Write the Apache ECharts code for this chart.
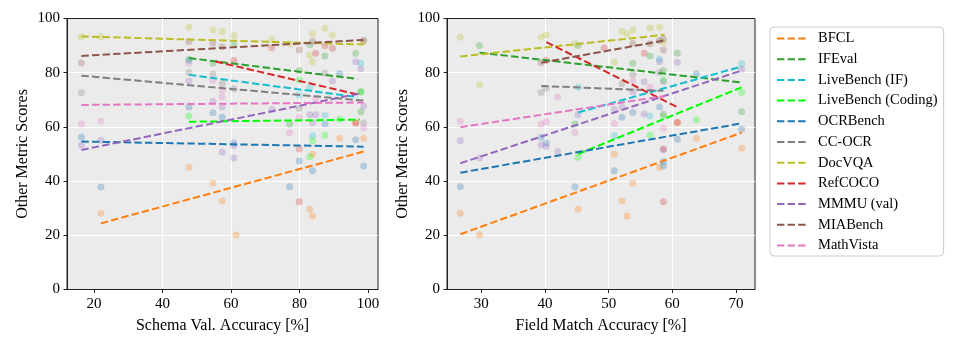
<!DOCTYPE html>
<html><head><meta charset="utf-8">
<script src="https://cdn.jsdelivr.net/npm/echarts@6/dist/echarts.min.js"></script>
<style>html,body{margin:0;padding:0;background:#fff}#c{width:957px;height:348px}</style>
</head><body><div id="c"></div><script>
const benchmarks = ['BFCL','IFEval','LiveBench (IF)','LiveBench (Coding)','OCRBench','CC-OCR','DocVQA','RefCOCO','MMMU (val)','MIABench','MathVista'];
const colors = ['#ff7f0e','#2ca02c','#17becf','#00ff00','#1f77b4','#7f7f7f','#bcbd22','#d62728','#9467bd','#8c564b','#e377c2'];

const schemaTicks = [20,40,60,80,100];
const fieldTicks = [30,40,50,60,70];
const yTicks = [0,20,40,60,80,100];
const schemaRange = [12.1, 102.9];
const fieldRange = [24.6, 73.0];

// Left panel points: [Schema Val. Accuracy, score]
const sBFCL = [[22,28.1],[47.7,45.1],[54.7,39.2],[57.4,32.7],[61.5,20.1],[83,29.6],[83.8,27.1],[83.8,49.9],[91.7,55.8],[96.4,61.6],[98.7,55.8]];
const sIFEval = [[47.7,85.0],[54.7,83.5],[60.8,90.3],[77.1,61.0],[79.9,80.8],[83.0,90.3],[87.4,86.2],[96.4,87.2],[97.9,73.0],[97.9,65.6]];
const sLiveIF = [[47.7,84.5],[79.9,71.8],[83.0,74.6],[83.8,56.7],[87.4,64.3],[97.9,83.5]];
const sLiveCode = [[47.7,64.0],[79.9,77.3],[83.0,49.0],[83.8,54.9],[87.4,56.9],[91.7,62.8],[97.9,72.9]];
const sOCRBench = [[16.3,56.3],[22,37.8],[47.7,67.3],[54.7,65.2],[57.4,63.6],[60.8,54.1],[77.1,37.9],[79.9,47.4],[83.8,43.8],[87.4,61.1],[91.7,79.6],[96.4,55.3],[98.7,45.6]];
const sCCOCR = [[16.3,72.6],[47.7,80.1],[54.7,79.5],[57.4,76.0],[60.8,74.1],[79.9,66.8],[87.4,79.8],[98.7,61.4]];
const sDocVQA = [[16.3,93.3],[22,93.3],[47.7,96.8],[54.7,95.8],[57.4,95.2],[60.8,93.7],[71.9,92.2],[77.2,90.6],[82.9,86.5],[83.8,94.3],[83.7,84.0],[87.4,96.3],[89.6,93.9],[98.7,91.4]];
const sRefCOCO = [[60.8,84.5],[71.9,89.2],[79.9,51.8],[79.9,32.4],[84.7,87.2],[87.4,89.9],[89.6,89.0],[96.4,61.4]];
const sMMMU = [[16.3,53.2],[22,55.1],[47.7,76.9],[54.7,69.5],[57.4,67.3],[57.4,50.7],[60.8,53.1],[60.8,48.5],[71.9,66.4],[83.0,64.5],[84.7,64.5],[83.8,61.5],[89.6,76.9],[96.4,84.0],[97.9,81.5],[98.7,67.6]];
const sMIABench = [[16.3,83.6],[47.7,91.5],[54.7,91.0],[57.4,89.6],[79.9,88.4],[83.8,91.5],[98.7,92.0]];
const sMathVista = [[16.3,61.1],[22,62.1],[47.7,83.6],[54.7,77.1],[57.4,73.4],[57.4,71.0],[77.1,57.8],[79.9,63.6],[84.7,70.4],[98.7,59.6]];

// Right panel points: [Field Match Accuracy, score]
const fBFCL = [[26.7,28.1],[29.7,20.1],[45.2,29.6],[50.9,49.9],[52.1,32.7],[52.9,27.1],[53.8,39.2],[58.0,45.1],[60.8,61.6],[63.8,55.8],[70.9,52.1]];
const fIFEval = [[29.7,90.0],[44.7,61.1],[45.2,90.0],[53.8,83.5],[56.5,86.2],[58.6,80.8],[60.8,87.2],[70.9,65.6]];
const fLiveIF = [[45.2,74.6],[50.9,56.7],[56.5,64.0],[58.0,85.0],[70.9,83.3]];
const fLiveCode = [[45.2,48.8],[56.5,57.0],[58.6,77.3],[58.6,64.0],[63.8,62.6],[70.9,72.7]];
const fOCRBench = [[26.7,37.9],[39.4,56.2],[40.2,54.1],[44.7,37.9],[50.9,43.8],[52.1,63.6],[53.8,65.3],[58.0,67.3],[58.6,45.6],[58.6,47.2],[60.8,55.4],[63.8,79.6],[70.9,59.1]];
const fCCOCR = [[39.4,72.7],[40.2,74.3],[52.1,75.9],[53.8,79.5],[58.0,80.1],[58.6,64.8]];
const fDocVQA = [[26.7,93.1],[29.7,75.6],[39.4,93.1],[40.2,93.9],[44.7,90.7],[50.9,83.9],[52.1,95.2],[52.9,94.3],[53.8,95.8],[56.5,96.5],[58.0,96.8],[58.6,91.1]];
const fRefCOCO = [[40.2,84.5],[49.3,89.1],[55.6,87.2],[58.6,51.8],[58.6,32.4],[60.8,61.6]];
const fMMMU = [[26.7,54.9],[29.7,48.5],[39.4,53.3],[40.2,52.8],[42.0,50.9],[45.2,64.5],[50.9,66.5],[52.1,67.3],[53.8,73.0],[55.6,76.7],[55.6,64.8],[58.0,84.1],[58.6,76.7],[58.6,51.5],[60.8,83.9],[70.9,81.3]];
const fMIABench = [[39.4,83.7],[53.8,90.9],[56.5,90.7],[58.0,91.9],[58.6,92.4],[58.6,88.4]];
const fMathVista = [[26.7,62.1],[39.4,61.1],[40.2,61.9],[42.0,71.0],[44.7,57.9],[50.9,61.3],[53.8,77.1],[56.5,74.6],[58.6,59.5]];

// Fitted trend lines: [x start, y start, x end, y end] per benchmark
const schemaTrend = [[22.0,24.4,98.7,50.9],[47.7,85.4,96.9,77.7],[47.7,79.2,96.9,71.0],[47.7,61.9,97.6,62.7],[16.3,54.6,98.7,52.7],[16.3,78.9,98.7,69.7],[16.3,93.4,98.7,90.4],[55.5,84.1,97.6,71.8],[16.3,51.5,97.9,72.4],[16.3,86.2,98.7,92.1],[16.3,68.1,98.7,69.0]];
const fieldTrend = [[26.7,20.4,70.9,57.9],[29.7,87.4,70.9,76.4],[45.2,65.3,70.9,82.3],[45.2,50.0,70.9,74.6],[26.7,43.1,70.9,61.3],[39.4,75.1,58.6,73.3],[26.7,86.0,58.8,94.0],[40.2,91.3,60.8,67.3],[26.7,46.6,70.9,80.8],[39.4,83.7,58.8,91.9],[26.7,59.9,58.8,71.4]];

const schemaPoints = [sBFCL,sIFEval,sLiveIF,sLiveCode,sOCRBench,sCCOCR,sDocVQA,sRefCOCO,sMMMU,sMIABench,sMathVista];
const fieldPoints = [fBFCL,fIFEval,fLiveIF,fLiveCode,fOCRBench,fCCOCR,fDocVQA,fRefCOCO,fMMMU,fMIABench,fMathVista];

const FONT = '"Liberation Serif","DejaVu Serif",serif';
const axisColor = '#222';

function xAxisDef(idx, name, range, ticks) {
  return {
    type:'value', gridIndex: idx, min: range[0], max: range[1], name: name,
    nameLocation:'middle', nameGap: 28,
    nameTextStyle:{fontFamily:FONT, fontSize:16, color:'#000'},
    axisLine:{show:true, onZero:false, lineStyle:{color:axisColor, width:1}},
    axisTick:{show:true, length:3.5, customValues: ticks, lineStyle:{color:axisColor}},
    axisLabel:{customValues: ticks, fontFamily:FONT, fontSize:15, color:'#000', margin:7},
    splitLine:{show:true, showMinLine:false, showMaxLine:false, lineStyle:{color:'#fff', width:1}}
  };
}
function yAxisDef(idx) {
  return {
    type:'value', gridIndex: idx, min:0, max:100, interval:20, name:'Other Metric Scores',
    nameLocation:'middle', nameGap: 36,
    nameTextStyle:{fontFamily:FONT, fontSize:16, color:'#000'},
    axisLine:{show:true, lineStyle:{color:axisColor, width:1}},
    axisTick:{show:true, length:3.5, lineStyle:{color:axisColor}},
    axisLabel:{fontFamily:FONT, fontSize:15, color:'#000', margin:7},
    splitLine:{show:true, showMinLine:false, showMaxLine:false, lineStyle:{color:'#fff', width:1}}
  };
}

const series = [];
[schemaPoints, fieldPoints].forEach((pts, p) => {
  const trend = p === 0 ? schemaTrend : fieldTrend;
  benchmarks.forEach((b, i) => {
    series.push({
      type:'scatter', name: b + ' points', xAxisIndex:p, yAxisIndex:p,
      data: pts[i], symbolSize: 7, silent:true,
      itemStyle:{color: colors[i], opacity: 0.28}, z: 2
    });
    const t = trend[i];
    series.push({
      type:'line', name: b, xAxisIndex:p, yAxisIndex:p,
      data: [[t[0],t[1]],[t[2],t[3]]], symbol:'none', silent:true,
      lineStyle:{color: colors[i], width:2, type:[7.4,3.2]}, itemStyle:{color: colors[i]}, z: 3
    });
  });
});

const chart = echarts.init(document.getElementById('c'), null, {renderer:'canvas'});
chart.setOption({
  animation:false,
  backgroundColor:'#fff',
  grid:[
    {left:67, top:18.5, width:311, height:271, show:true, backgroundColor:'#ebebeb', borderColor:axisColor, borderWidth:1},
    {left:447, top:18.5, width:308, height:271, show:true, backgroundColor:'#ebebeb', borderColor:axisColor, borderWidth:1}
  ],
  xAxis:[xAxisDef(0,'Schema Val. Accuracy [%]', schemaRange, schemaTicks), xAxisDef(1,'Field Match Accuracy [%]', fieldRange, fieldTicks)],
  yAxis:[yAxisDef(0), yAxisDef(1)],
  legend:{
    data: benchmarks, orient:'vertical', left:770, top:27,
    itemWidth:29, itemHeight:14, itemGap:5.7, padding:[4,6,3,6],
    borderColor:'#cccccc', borderWidth:1, borderRadius:4, backgroundColor:'#fff',
    itemStyle:{opacity:0},
    textStyle:{fontFamily:FONT, fontSize:14.5, color:'#000', padding:[0,0,0,7]},
    selectedMode:false
  },
  series: series
});
</script></body></html>
